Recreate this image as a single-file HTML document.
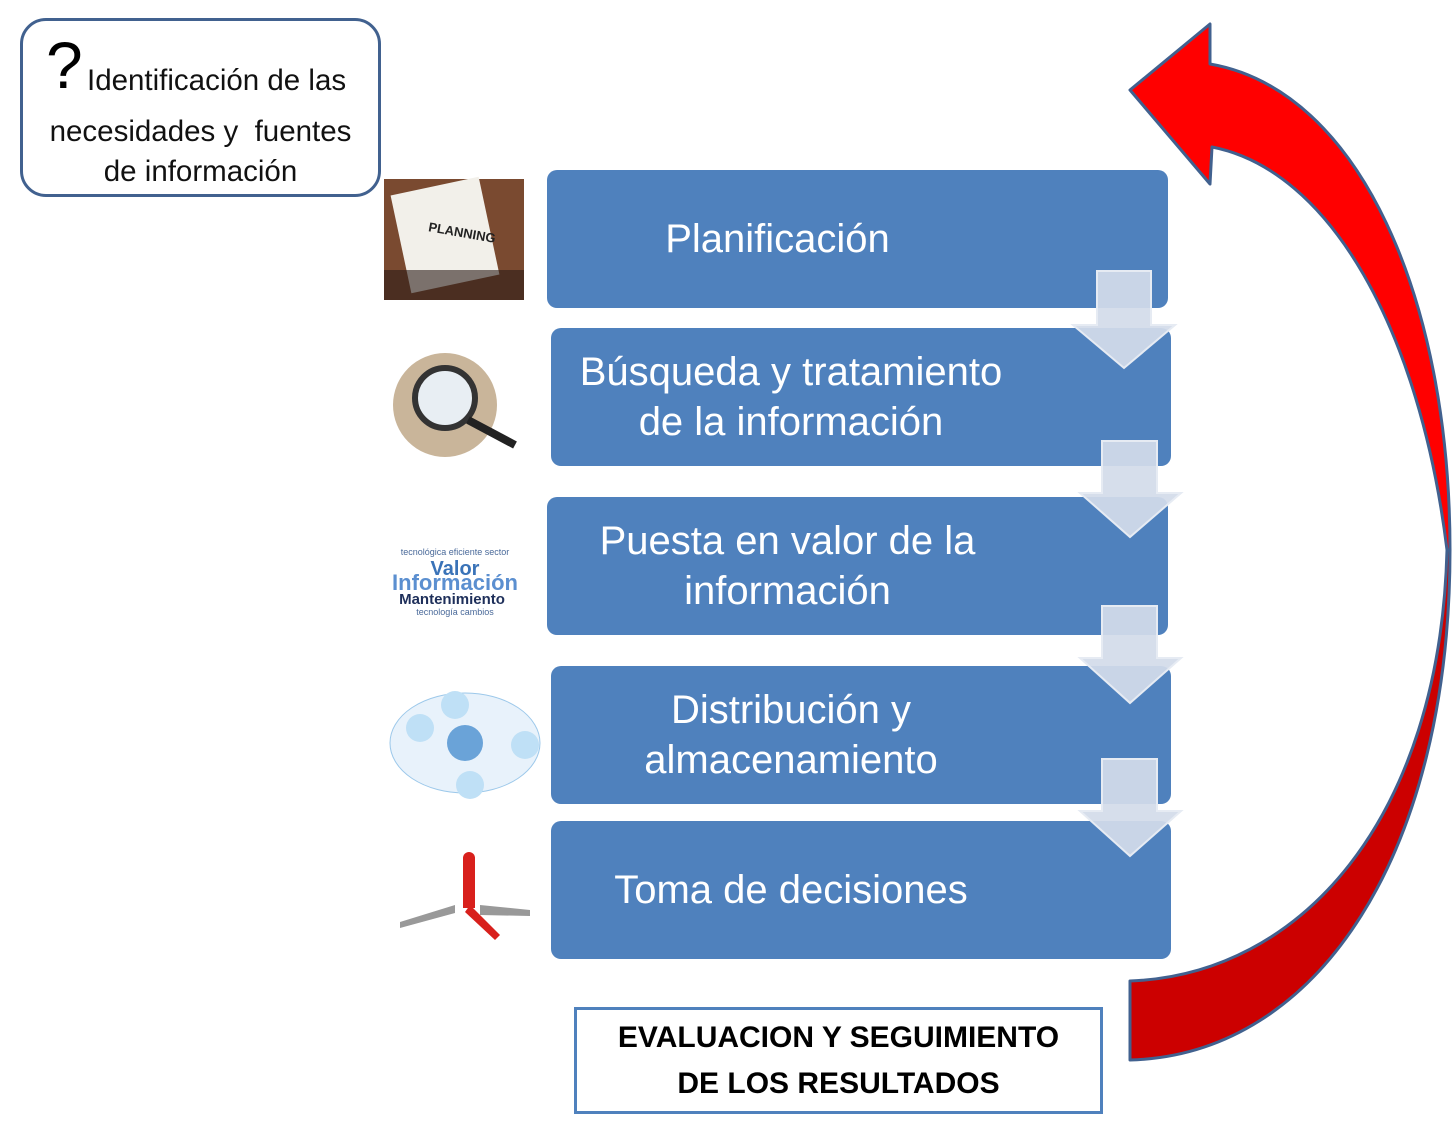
<!DOCTYPE html>
<html><head><meta charset="utf-8"><style>
body{margin:0;width:1452px;height:1129px;background:#fff;position:relative;overflow:hidden;font-family:"Liberation Sans","DejaVu Sans",sans-serif}
.b{position:absolute;background:#4f81bd;border-radius:10px;color:#fff;font-size:40px;text-align:center;line-height:50px;display:flex;flex-direction:column;justify-content:center}
.abs{position:absolute}
</style></head><body>
<div class="abs" style="left:20px;top:18px;width:355px;height:173px;border:3px solid #41618f;border-radius:26px;"></div>
<div class="abs" style="left:46px;top:30px;font-size:66px;line-height:70px;color:#000">?</div>
<div class="abs" style="left:87px;top:64px;font-size:29.5px;color:#111;white-space:nowrap">Identificación de las</div>
<div class="abs" style="left:20px;top:112px;width:361px;text-align:center;font-size:29.5px;line-height:40px;color:#111;white-space:nowrap">necesidades y &nbsp;fuentes<br>de información</div>

<div class="b" style="left:547px;top:170px;width:621px;height:138px;padding-right:160px;box-sizing:border-box">Planificación</div>
<div class="b" style="left:551px;top:328px;width:620px;height:138px;padding-right:140px;box-sizing:border-box">Búsqueda y tratamiento<br>de la información</div>
<div class="b" style="left:547px;top:497px;width:621px;height:138px;padding-right:140px;box-sizing:border-box">Puesta en valor de la<br>información</div>
<div class="b" style="left:551px;top:666px;width:620px;height:138px;padding-right:140px;box-sizing:border-box">Distribución y<br>almacenamiento</div>
<div class="b" style="left:551px;top:821px;width:620px;height:138px;padding-right:140px;box-sizing:border-box">Toma de decisiones</div>

<div class="abs" style="left:574px;top:1007px;width:523px;height:101px;border:3px solid #4f81bd;font-weight:bold;font-size:30px;line-height:46px;text-align:center;display:flex;align-items:center;justify-content:center">EVALUACION Y SEGUIMIENTO<br>DE LOS RESULTADOS</div>

<svg class="abs" style="left:0;top:0" width="1452" height="1129">
<g fill="#d3dcea" fill-opacity="0.93" stroke="#e6ebf3" stroke-width="2">
<path d="M1097,271 H1151 V325 H1175 L1124,368 L1073,325 H1097 Z"/>
<path d="M1102,441 H1157 V493 H1181 L1130,537 L1080,493 H1102 Z"/>
<path d="M1102,606 H1157 V658 H1181 L1130,703 L1080,658 H1102 Z"/>
<path d="M1102,759 H1157 V811 H1181 L1130,856 L1080,811 H1102 Z"/>
</g>
<g stroke="#41618f" stroke-width="3" stroke-linejoin="round">
<path fill="#ff0000" d="M1447,550 C1420,330 1330,170 1212,147 L1210,184 L1130,90 L1210,24 L1210,64 C1360,90 1450,300 1450,550 Z"/>
<path fill="#cc0000" d="M1450,550 C1450,850 1320,1055 1130,1060 L1130,981 C1300,975 1440,820 1447,550 Z"/>
</g>
<rect x="384" y="179" width="140" height="121" fill="#7a4a30"/>
<rect x="400" y="185" width="90" height="100" fill="#f2f0ea" transform="rotate(-12 445 235)"/>
<text x="428" y="235" font-size="13" font-weight="bold" fill="#222" transform="rotate(10 450 232)">PLANNING</text>
<rect x="384" y="270" width="140" height="30" fill="#2b1d18" opacity="0.6"/>
<circle cx="445" cy="405" r="52" fill="#c9b59a"/>
<circle cx="445" cy="398" r="30" fill="#e8eef3" stroke="#333" stroke-width="6"/>
<line x1="468" y1="420" x2="515" y2="445" stroke="#222" stroke-width="8"/>
<text x="455" y="575" font-size="20" font-weight="bold" fill="#3a73b8" text-anchor="middle">Valor</text>
<text x="455" y="590" font-size="22" font-weight="bold" fill="#5b8fd0" text-anchor="middle">Información</text>
<text x="452" y="604" font-size="15" font-weight="bold" fill="#1e2f5a" text-anchor="middle">Mantenimiento</text>
<text x="455" y="555" font-size="9" fill="#4a6a9a" text-anchor="middle">tecnológica eficiente sector</text>
<text x="455" y="615" font-size="9" fill="#4a6a9a" text-anchor="middle">tecnología cambios</text>
<ellipse cx="465" cy="743" rx="75" ry="50" fill="#e8f2fb" stroke="#9cc8ea"/>
<circle cx="420" cy="728" r="14" fill="#bfe0f6"/><circle cx="525" cy="745" r="14" fill="#bfe0f6"/>
<circle cx="470" cy="785" r="14" fill="#bfe0f6"/><circle cx="455" cy="705" r="14" fill="#bfe0f6"/>
<circle cx="465" cy="743" r="18" fill="#6aa3d8"/>
<rect x="463" y="858" width="12" height="50" fill="#d8201c"/>
<circle cx="469" cy="858" r="6" fill="#d8201c"/>
<path d="M400,922 L455,905 L455,913 L400,928 Z" fill="#999"/>
<path d="M480,905 L530,910 L530,916 L480,915 Z" fill="#999"/>
<path d="M470,905 L500,935 L495,940 L465,912 Z" fill="#d8201c"/>
</svg>
</body></html>
